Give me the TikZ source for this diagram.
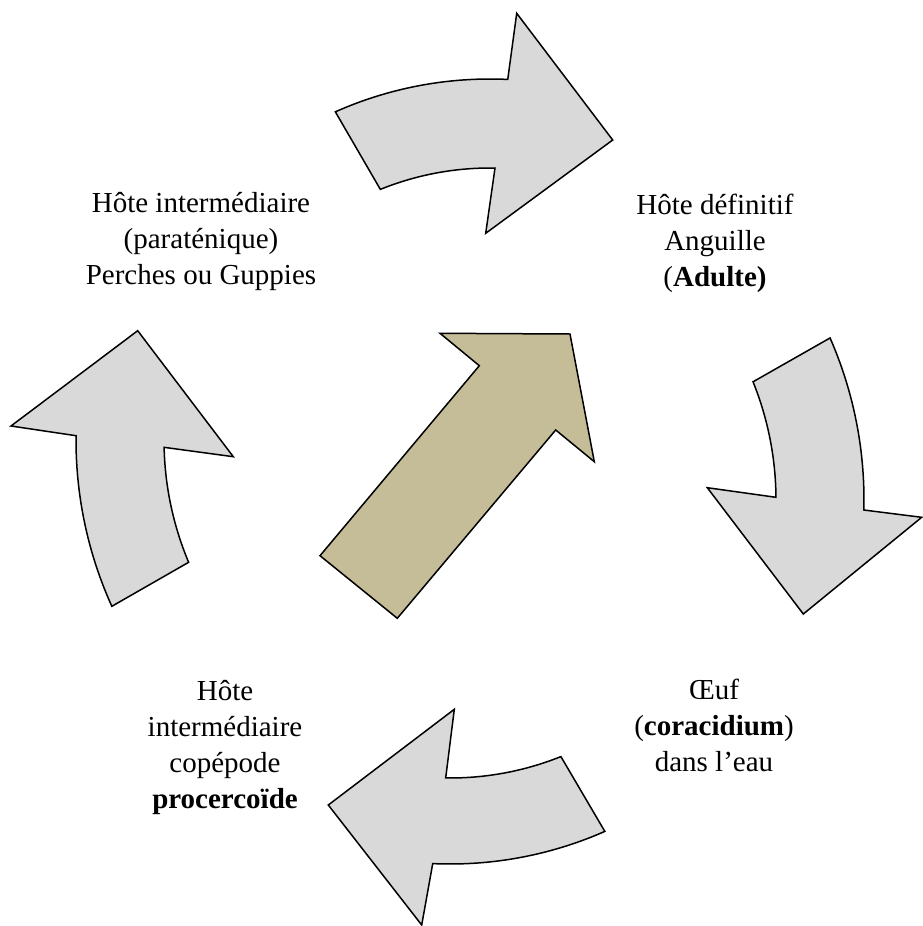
\documentclass[tikz,border=0pt]{standalone}
\usepackage{fontspec}
\setmainfont{Liberation Serif}
\definecolor{arrowgrey}{HTML}{D9D9D9}
\definecolor{arrowtan}{HTML}{C4BD97}
\begin{document}
\begin{tikzpicture}[x=1pt,y=-1pt,
  cyclearrow/.style={fill=arrowgrey,draw=black,line width=1.5pt,line join=miter},
  mainarrow/.style={fill=arrowtan,draw=black,line width=1.5pt,line join=miter},
  label/.style={align=center,anchor=base,inner sep=0pt,font=\fontsize{29}{36}\selectfont}]
\useasboundingbox (0,0) rectangle (922,926);

% top arrow (left -> right), arc centre (490,460)
\filldraw[cyclearrow]
  plot[domain=-113.95:-87.33,samples=40,variable=\t] ({490+381*cos(\t)},{460+381*sin(\t)})
  -- (516.7,13.3) -- (612.7,140) -- (485.7,233.3)
  -- plot[domain=-89.02:-112.06,samples=40,variable=\t] ({490+292*cos(\t)},{460+292*sin(\t)})
  -- cycle;

% right arrow (top -> bottom), arc centre (460,500)
\filldraw[cyclearrow]
  plot[domain=-23.65:1.42,samples=40,variable=\t] ({460+404*cos(\t)},{500+404*sin(\t)})
  -- (921.7,517.3) -- (803.3,614) -- (707.3,487.7)
  -- plot[domain=-0.49:-21.97,samples=40,variable=\t] ({460+316*cos(\t)},{500+316*sin(\t)})
  -- cycle;

% bottom arrow (right -> left), arc centre (450,480)
\filldraw[cyclearrow]
  plot[domain=66.22:92.58,samples=40,variable=\t] ({450+384*cos(\t)},{480+384*sin(\t)})
  -- (421.7,925) -- (328.3,805) -- (454.3,709.3)
  -- plot[domain=90.83:68.15,samples=40,variable=\t] ({450+298*cos(\t)},{480+298*sin(\t)})
  -- cycle;

% left arrow (bottom -> top), arc centre (480,440)
\filldraw[cyclearrow]
  plot[domain=155.69:180.61,samples=40,variable=\t] ({480+404*cos(\t)},{440+404*sin(\t)})
  -- (11,426) -- (137.7,330.7) -- (233.3,456.7)
  -- plot[domain=178.67:157.23,samples=40,variable=\t] ({480+316*cos(\t)},{440+316*sin(\t)})
  -- cycle;

% central straight arrow
\filldraw[mainarrow] (320,555.7) -- (479.3,365.7) -- (440,333.3) -- (570,334)
  -- (594.3,461.7) -- (555.7,430) -- (397.3,618.3) -- cycle;

% labels (anchor = baseline of last line)
\node[label] (def) at (715,286) {Hôte définitif\\Anguille\\(\textbf{Adulte)}};
\node[label] (egg) at (714,771) {Œuf\\(\textbf{coracidium})\\dans l’eau};
\node[label] (cop) at (225,808) {Hôte\\intermédiaire\\copépode\\\textbf{procercoïde}};
\node[label] (par) at (201,284.5) {Hôte intermédiaire\\(paraténique)\\Perches ou Guppies};
\end{tikzpicture}
\end{document}
